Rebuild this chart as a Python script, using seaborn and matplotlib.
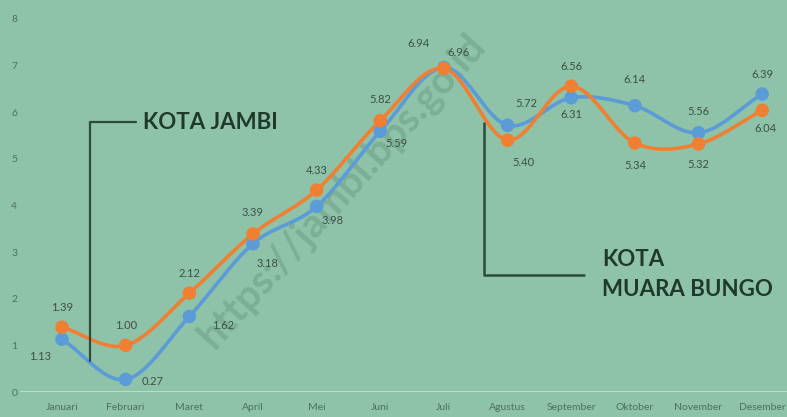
import matplotlib
matplotlib.use("Agg")
import matplotlib.pyplot as plt
import numpy as np
import pandas as pd
import seaborn as sns

""" Data """
months = ["Januari", "Februari", "Maret", "April", "Mei", "Juni", "Juli",
          "Agustus", "September", "Oktober", "November", "Desember"]
jambi = [1.39, 1.00, 2.12, 3.39, 4.33, 5.82, 6.94, 5.40, 6.56, 5.34, 5.32, 6.04]
bungo = [1.13, 0.27, 1.62, 3.18, 3.98, 5.59, 6.96, 5.72, 6.31, 6.14, 5.56, 6.39]
yticks = list(range(0, 9))

""" Style """
bg = "#8ec3a9"
orange = "#f07f32"
blue = "#5b9bd8"
ink = "#2d4a3c"
label_col = "#3c4f47"
sns.set_style("white")
plt.rcParams["font.family"] = ["Lato", "DejaVu Sans"]

# label offsets in pixels (dx, dy)
off_jambi = [(0, 20), (0, 20), (0, 20), (0, 21), (0, 20), (0, 21),
             (-25, 25), (16, -22), (0, 20), (0, -22), (0, -21), (3, -18)]
off_bungo = [(-22, -17), (27, -2), (34, -9), (15, -20), (16, -14), (16, -12),
             (15, 15), (19, 22), (0, -17), (0, 26), (0, 21), (0, 20)]


def smooth(xs, ys, n=24):
    """Catmull-Rom curve through the points (like Excel's smoothed line)."""
    xs = np.asarray(xs, float)
    ys = np.asarray(ys, float)
    px = np.concatenate([[2 * xs[0] - xs[1]], xs, [2 * xs[-1] - xs[-2]]])
    py = np.concatenate([[2 * ys[0] - ys[1]], ys, [2 * ys[-1] - ys[-2]]])
    out_x, out_y = [], []
    t = np.linspace(0, 1, n, endpoint=False)
    for i in range(1, len(px) - 2):
        for p, out in ((px, out_x), (py, out_y)):
            p0, p1, p2, p3 = p[i - 1], p[i], p[i + 1], p[i + 2]
            out.extend(0.5 * (2 * p1 + (-p0 + p2) * t
                              + (2 * p0 - 5 * p1 + 4 * p2 - p3) * t ** 2
                              + (-p0 + 3 * p1 - 3 * p2 + p3) * t ** 3))
    out_x.append(xs[-1])
    out_y.append(ys[-1])
    return np.array(out_x), np.array(out_y)


idx = np.arange(len(months))
df = pd.DataFrame({"x": idx, "month": months, "jambi": jambi, "bungo": bungo})

fig = plt.figure(figsize=(7.87, 4.17), dpi=100, facecolor=bg)
ax = fig.add_axes([20 / 787, 25 / 417, 767 / 787, 387 / 417])
ax.set_facecolor(bg)

# watermark
ax.text(0.42, 0.52, "https://jambi.bps.go.id", transform=ax.transAxes,
        rotation=48, ha="center", va="center", fontsize=29, fontweight="bold",
        color="#6e9e86", alpha=0.55, zorder=1)

ax.axhline(0, color="#c4e3d3", lw=1.2, zorder=2)

for col, c, offs in (("bungo", blue, off_bungo), ("jambi", orange, off_jambi)):
    sx, sy = smooth(df["x"], df[col])
    sns.lineplot(x=sx, y=sy, sort=False, color=c, lw=2.6, ax=ax, zorder=3)
    sns.scatterplot(data=df, x="x", y=col, color=c, s=95, edgecolor="none",
                    ax=ax, zorder=4)
    for xi, yi, (dx, dy) in zip(df["x"], df[col], offs):
        ax.annotate(f"{yi:.2f}", (xi, yi), xytext=(dx, dy),
                    textcoords="offset pixels", ha="center", va="center",
                    fontsize=8, color=label_col, zorder=5)

# callouts
ax.plot([0.44, 0.44, 1.16], [0.66, 5.78, 5.78], color=ink, lw=1.6, zorder=5)
ax.text(1.28, 5.78, "KOTA JAMBI", fontsize=16, fontweight="bold",
        color="#1f3a2c", va="center", ha="left", zorder=5)
ax.plot([6.63, 6.63, 8.2], [5.77, 2.5, 2.5], color=ink, lw=1.8, zorder=5)
ax.text(8.48, 2.85, "KOTA", fontsize=16, fontweight="bold",
        color="#1f3a2c", va="center", ha="left", zorder=5)
ax.text(8.48, 2.2, "MUARA BUNGO", fontsize=16, fontweight="bold",
        color="#1f3a2c", va="center", ha="left", zorder=5)

ax.set_xlim(-0.66, 11.39)
ax.set_ylim(0, 8.3)
ax.set_xticks(idx)
ax.set_xticklabels(months)
ax.set_yticks(yticks)
ax.tick_params(axis="both", length=0, labelsize=7.5, colors="#4f6f60")
ax.tick_params(axis="x", pad=8)
ax.tick_params(axis="y", pad=2)
ax.set_xlabel("")
ax.set_ylabel("")
sns.despine(ax=ax, left=True, bottom=True)

fig.savefig("out.png", dpi=100, facecolor=bg)
